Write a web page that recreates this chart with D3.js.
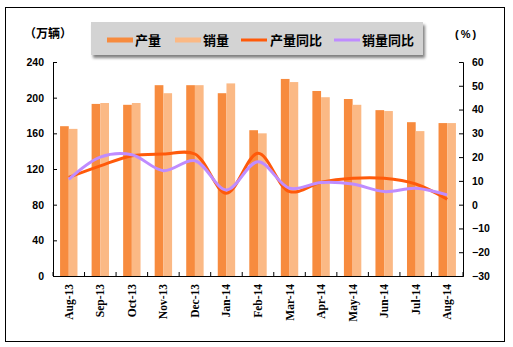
<!DOCTYPE html>
<html><head><meta charset="utf-8">
<script src="https://cdn.jsdelivr.net/npm/d3@7/dist/d3.min.js"></script>
<style>body{margin:0;background:#fff}svg{display:block}</style>
</head><body>
<script>
const categories = ["Aug-13","Sep-13","Oct-13","Nov-13","Dec-13","Jan-14","Feb-14","Mar-14","Apr-14","May-14","Jun-14","Jul-14","Aug-14"];
const production = [168, 193, 192, 214, 214, 205, 163.5, 221, 207.5, 198.5, 186, 172.5, 171.5];
const sales = [165, 194, 194, 205, 214, 216, 160, 217.5, 200.5, 192, 185, 162.5, 171.5];
const prodYoY = [11.5, 16.3, 20.6, 21.3, 21.3, 4.8, 21.6, 5.5, 9.4, 11.1, 11.1, 8.7, 2.3];
const salesYoY = [10.6, 20.0, 21.0, 14.3, 18.5, 6.2, 18.1, 6.9, 9.3, 8.7, 5.5, 6.9, 4.1];
const leftTicks = [0, 40, 80, 120, 160, 200, 240];
const rightTicks = [-30, -20, -10, 0, 10, 20, 30, 40, 50, 60];
const seriesNames = ["产量", "销量", "产量同比", "销量同比"];
const colors = {prod: "#f78b3e", sales: "#fbb985", prodLine: "#ff5a0a", salesLine: "#bf8cff"};

const W = 513, H = 347;
const svg = d3.select("body").append("svg").attr("width", W).attr("height", H);
const defs = svg.append("defs");
const f = defs.append("filter").attr("id","sh").attr("x","-10%").attr("y","-10%").attr("width","130%").attr("height","160%");
f.append("feGaussianBlur").attr("in","SourceAlpha").attr("stdDeviation",1.5);
f.append("feOffset").attr("dx",2).attr("dy",3).attr("result","ob");
f.append("feComponentTransfer").append("feFuncA").attr("type","linear").attr("slope",0.5);
const fm = f.append("feMerge"); fm.append("feMergeNode"); fm.append("feMergeNode").attr("in","SourceGraphic");

svg.append("rect").attr("x",5.5).attr("y",7.5).attr("width",499).attr("height",334)
  .attr("fill","#fff").attr("stroke","#000").attr("stroke-width",1);

const L = 53, R = 463, T = 62, B = 276;
const x = d3.scaleBand().domain(categories).range([L, R]).paddingInner(0).paddingOuter(0);
const y = d3.scaleLinear().domain([0, 240]).range([B, T]);
const y2 = d3.scaleLinear().domain([-30, 60]).range([B, T]);
const bw = 8.7;

const g = svg.append("g");
g.selectAll("rect.p").data(categories).join("rect").attr("class","p")
  .attr("x", d => x(d) + x.bandwidth()/2 - bw).attr("width", bw)
  .attr("y", (d,i) => y(production[i])).attr("height", (d,i) => B - y(production[i]))
  .attr("fill", colors.prod);
g.selectAll("rect.s").data(categories).join("rect").attr("class","s")
  .attr("x", d => x(d) + x.bandwidth()/2).attr("width", bw)
  .attr("y", (d,i) => y(sales[i])).attr("height", (d,i) => B - y(sales[i]))
  .attr("fill", colors.sales);

const line = d3.line().x((d,i) => x(categories[i]) + x.bandwidth()/2).y(d => y2(d)).curve(d3.curveCatmullRom.alpha(0.5));
g.append("path").attr("d", line(prodYoY)).attr("fill","none").attr("stroke",colors.prodLine).attr("stroke-width",3);
g.append("path").attr("d", line(salesYoY)).attr("fill","none").attr("stroke",colors.salesLine).attr("stroke-width",3);

// axes
const numFont = "bold 10.5px 'Liberation Sans', sans-serif";
const ax = svg.append("g").attr("transform",`translate(${L},0)`)
  .call(d3.axisLeft(y).tickValues(leftTicks).tickSize(-4).tickPadding(9));
const ax2 = svg.append("g").attr("transform",`translate(${R},0)`)
  .call(d3.axisRight(y2).tickValues(rightTicks).tickSize(-4).tickPadding(9).tickFormat(d => d < 0 ? "−" + Math.abs(d) : d));
const axb = svg.append("g").attr("transform",`translate(0,${B})`)
  .call(d3.axisBottom(x).tickSize(0).tickPadding(0));
[ax, ax2, axb].forEach(a => {
  a.select(".domain").attr("stroke","#000");
  a.selectAll(".tick line").attr("stroke","#000");
  a.selectAll("text").style("font", numFont).attr("fill","#000");
});
axb.selectAll(".tick text").style("font","bold 11.5px 'Liberation Serif', serif")
  .attr("transform","rotate(-90)").attr("text-anchor","end").attr("x",-8).attr("y",0).attr("dy","0.35em");
// inner ticks at band boundaries
axb.selectAll("line.bt").data(d3.range(categories.length+1)).join("line").attr("class","bt")
  .attr("x1", i => L + i*x.bandwidth()).attr("x2", i => L + i*x.bandwidth())
  .attr("y1", 0).attr("y2", -4).attr("stroke","#000");

// unit labels
const cjk = "'Noto Sans CJK SC', sans-serif";
svg.append("text").attr("x",24).attr("y",38).text("（万辆）").style("font",`bold 12px ${cjk}`);
svg.append("text").attr("x",455).attr("y",38).text("(%)").style("font",`bold 11px 'Liberation Sans', sans-serif`).style("letter-spacing","2px");

// legend
const lg = svg.append("g");
lg.append("rect").attr("x",91).attr("y",22).attr("width",332).attr("height",33).attr("fill","#d3d3d3").attr("filter","url(#sh)");
const items = [
  {name: seriesNames[0], c: colors.prod, sx: 107, tx: 135, w: 5},
  {name: seriesNames[1], c: colors.sales, sx: 175, tx: 203, w: 5},
  {name: seriesNames[2], c: colors.prodLine, sx: 241, tx: 270, w: 3},
  {name: seriesNames[3], c: colors.salesLine, sx: 334, tx: 362, w: 3}
];
items.forEach(it => {
  lg.append("line").attr("x1",it.sx).attr("x2",it.sx+26).attr("y1",40).attr("y2",40).attr("stroke",it.c).attr("stroke-width",it.w);
  lg.append("text").attr("x",it.tx).attr("y",45).text(it.name).style("font",`bold 13px ${cjk}`).attr("fill","#000");
});
</script>
</body></html>
